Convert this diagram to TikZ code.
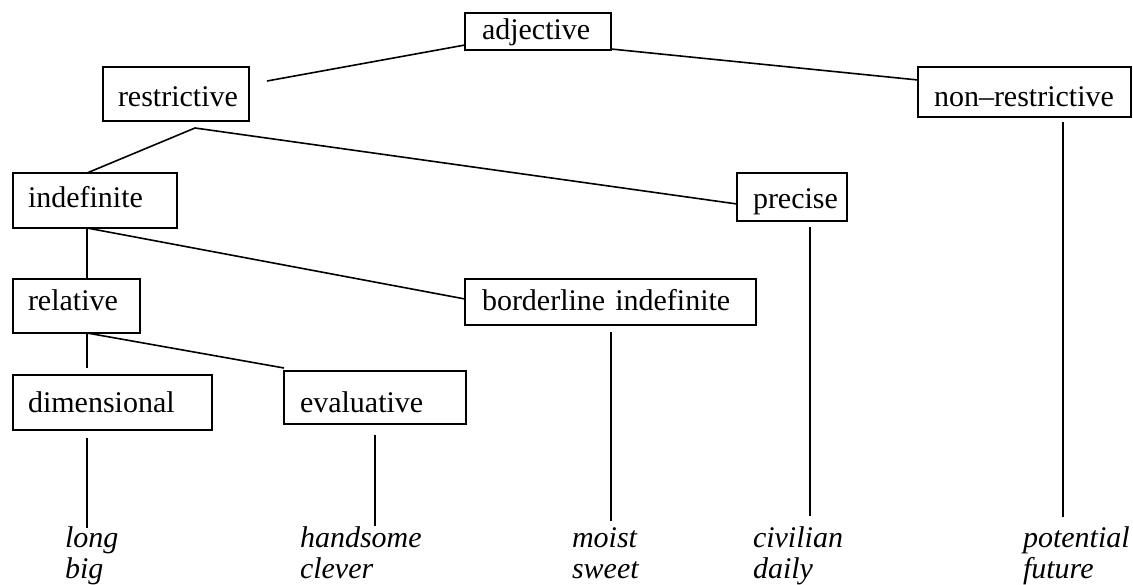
\documentclass[tikz,border=0pt]{standalone}
\usepackage{fontspec}
\setmainfont{Liberation Serif}
\begin{document}
\begin{tikzpicture}[x=1pt,y=-1pt,
  box/.style n args={4}{draw, line width=1.6pt, outer sep=0pt, inner ysep=0pt,
    inner xsep=#1, text width=#2, text height=#3, text depth=#4,
    align=left, anchor=base west, font=\fontsize{30}{31}\selectfont},
  word/.style={inner sep=0pt, outer sep=0pt, anchor=base west,
    font=\fontsize{30}{31}\selectfont\itshape},
  conn/.style={line width=1.6pt}]
\useasboundingbox (0,0) rectangle (1133,585);
% boxes
\node[box={17pt}{112pt}{27pt}{10pt}] (adj) at (465,40) {\mbox{adjective}};
\node[box={15pt}{116pt}{40pt}{14pt}] (restr) at (103,107) {\mbox{restrictive}};
\node[box={16pt}{181pt}{40pt}{10pt}] (nonr) at (918,107) {\mbox{non–restrictive}};
\node[box={15pt}{134pt}{35pt}{20pt}] (indef) at (13,208) {\mbox{indefinite}};
\node[box={16pt}{78pt}{36pt}{12pt}] (prec) at (737,209) {\mbox{precise}};
\node[box={15pt}{97pt}{32pt}{22pt}] (rel) at (13,311) {\mbox{relative}};
\node[box={17pt}{257pt}{32pt}{14pt}] (border) at (465,311) {\mbox{borderline indefinite}};
\node[box={15pt}{169pt}{37pt}{18pt}] (dim) at (13,412) {\mbox{dimensional}};
\node[box={16pt}{150pt}{41pt}{12pt}] (eval) at (284,412) {\mbox{evaluative}};
% example words
\node[word] (long) at (65,547) {long};
\node[word] (big) at (65,578) {big};
\node[word] (hand) at (300,547) {handsome};
\node[word] (clev) at (300,578) {clever};
\node[word] (moist) at (572,547) {moist};
\node[word] (sweet) at (572,578) {sweet};
\node[word] (civ) at (753,547) {civilian};
\node[word] (daily) at (753,578) {daily};
\node[word] (pot) at (1023,547) {potential};
\node[word] (fut) at (1023,578) {future};
% connectors
\draw[conn] ([yshift=5pt]adj.south west) -- ([xshift=18pt,yshift=-14pt]restr.north east);
\draw[conn] ([yshift=1pt]adj.south east) -- ([yshift=-13pt]nonr.north west);
\draw[conn] ([xshift=74pt]indef.north west) -- ([xshift=19pt,yshift=-7pt]restr.south)
  -- ([yshift=-7pt]prec.west);
\draw[conn] ([xshift=74pt]rel.north west) -- ([xshift=74pt]indef.south west)
  -- ([yshift=3pt]border.west);
\draw[conn] ([xshift=74pt,yshift=7pt]dim.north west) -- ([xshift=74pt]rel.south west)
  -- ([yshift=3pt]eval.north west);
\draw[conn] ([xshift=74pt,yshift=-8pt]dim.south west) -- ([xshift=22pt,yshift=19pt]long.base west);
\draw[conn] ([xshift=91pt,yshift=-11pt]eval.south west) -- ([xshift=75pt,yshift=21pt]hand.base west);
\draw[conn] ([xshift=146pt,yshift=-7pt]border.south west) -- ([xshift=39pt,yshift=26pt]moist.base west);
\draw[conn] ([xshift=73pt,yshift=-6pt]prec.south west) -- ([xshift=57pt,yshift=31pt]civ.base west);
\draw[conn] ([xshift=145pt,yshift=-5pt]nonr.south west) -- ([xshift=40pt,yshift=30pt]pot.base west);
\end{tikzpicture}
\end{document}
